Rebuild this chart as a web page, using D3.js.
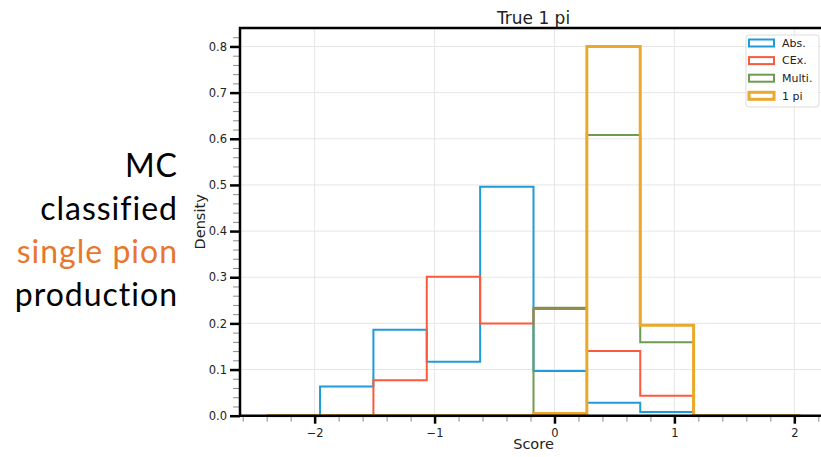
<!DOCTYPE html>
<html>
<head>
<meta charset="utf-8">
<script src="https://cdn.jsdelivr.net/npm/d3@7"></script>
<style>
  body { margin: 0; background: #fff; }
  svg { display: block; }
  text { font-family: "DejaVu Sans", sans-serif; fill: #222; }
  .side { font-family: Lato, "Open Sans", sans-serif; font-size: 32px; letter-spacing: 1px;
          font-variant-ligatures: none; font-feature-settings: "liga" 0, "clig" 0; fill: #000; }
</style>
</head>
<body>
<div id="chart"></div>
<script>
// histogram bin edges (Score) and densities per class
var binEdges = [-2.4, -1.955, -1.51, -1.065, -0.62, -0.175, 0.27, 0.715, 1.16, 1.605, 2.05];
var absVals = [0, 0.063, 0.186, 0.117, 0.496, 0.097, 0.028, 0.008, 0, 0];
var cexVals = [0, 0, 0.077, 0.301, 0.200, 0.231, 0.140, 0.043, 0, 0];
var multiVals = [0, 0, 0, 0, 0, 0.234, 0.608, 0.159, 0, 0];
var onePiVals = [0, 0, 0, 0, 0, 0.005, 0.800, 0.196, 0, 0];
var seriesNames = ["Abs.", "CEx.", "Multi.", "1 pi"];
var xTicks = [-2, -1, 0, 1, 2];
var yTicks = [0, 0.1, 0.2, 0.3, 0.4, 0.5, 0.6, 0.7, 0.8];
var sideLines = ["MC", "classified", "single pion", "production"];

var width = 821, height = 457;
var colors = ["#1f9bd9", "#fb5b3d", "#6f9a52", "#eaa92c"];
var lineWidths = [2, 2, 2, 3];

var svg = d3.select("#chart").append("svg")
    .attr("width", width)
    .attr("height", height);

// matplotlib style limits: 5% margin on x, y from 0 to max*1.05
var xSpan = binEdges[binEdges.length - 1] - binEdges[0];
var x = d3.scaleLinear()
    .domain([binEdges[0] - 0.05 * xSpan, binEdges[binEdges.length - 1] + 0.05 * xSpan])
    .range([240, 827]);
var yMax = d3.max([absVals, cexVals, multiVals, onePiVals], function (a) { return d3.max(a); });
var y = d3.scaleLinear()
    .domain([0, yMax * 1.05])
    .range([415.7, 28]);

var plotLeft = x.range()[0], plotRight = x.range()[1];
var plotTop = y.range()[1], plotBottom = y.range()[0];

// grid
svg.append("g").selectAll("line").data(xTicks).enter().append("line")
    .attr("x1", function (d) { return x(d); }).attr("x2", function (d) { return x(d); })
    .attr("y1", plotTop).attr("y2", plotBottom)
    .attr("stroke", "#e6e6e6").attr("stroke-width", 1);
svg.append("g").selectAll("line").data(yTicks.slice(1)).enter().append("line")
    .attr("x1", plotLeft).attr("x2", plotRight)
    .attr("y1", function (d) { return y(d); }).attr("y2", function (d) { return y(d); })
    .attr("stroke", "#e6e6e6").attr("stroke-width", 1);

// minor ticks
var xMinor = d3.range(-2.6, 2.3, 0.2).filter(function (v) {
    return Math.abs(v - Math.round(v)) > 0.01 && x(v) >= plotLeft;
});
var yMinor = d3.range(0, 0.84, 0.02).filter(function (v) {
    return Math.abs(v * 10 - Math.round(v * 10)) > 0.01;
});
var xAxisMinor = svg.append("g")
    .attr("transform", "translate(0," + plotBottom + ")")
    .call(d3.axisBottom(x).tickValues(xMinor).tickSize(6).tickFormat(""));
var yAxisMinor = svg.append("g")
    .attr("transform", "translate(" + plotLeft + ",0)")
    .call(d3.axisLeft(y).tickValues(yMinor).tickSize(7).tickFormat(""));
[xAxisMinor, yAxisMinor].forEach(function (g) {
    g.select(".domain").remove();
    g.selectAll(".tick line").attr("stroke", "#8a8a8a").attr("stroke-width", 1);
});

// histograms (step outlines)
var allVals = [absVals, cexVals, multiVals, onePiVals];
var line = d3.line().x(function (d) { return x(d[0]); }).y(function (d) { return y(d[1]); });
allVals.forEach(function (vals, i) {
    var pts = [[binEdges[0], 0]];
    vals.forEach(function (v, j) {
        pts.push([binEdges[j], v]);
        pts.push([binEdges[j + 1], v]);
    });
    pts.push([binEdges[binEdges.length - 1], 0]);
    svg.append("path")
        .attr("d", line(pts))
        .attr("fill", "none")
        .attr("stroke", colors[i])
        .attr("stroke-width", lineWidths[i]);
});

// major axes
var xAxis = svg.append("g")
    .attr("transform", "translate(0," + plotBottom + ")")
    .call(d3.axisBottom(x).tickValues(xTicks).tickSize(8).tickPadding(5)
        .tickFormat(function (d) { return d < 0 ? "\u2212" + Math.abs(d) : d; }));
var yAxis = svg.append("g")
    .attr("transform", "translate(" + plotLeft + ",0)")
    .call(d3.axisLeft(y).tickValues(yTicks).tickSize(10).tickPadding(3).tickFormat(d3.format(".1f")));
[xAxis, yAxis].forEach(function (g) {
    g.select(".domain").remove();
    g.selectAll(".tick line").attr("stroke", "#000").attr("stroke-width", 2.5);
    g.selectAll(".tick text").style("font-size", "11.5px").attr("fill", "#222");
});

// spines
svg.append("path")
    .attr("d", "M" + plotRight + "," + plotTop + "H" + plotLeft + "V" + plotBottom + "H" + plotRight)
    .attr("fill", "none").attr("stroke", "#000").attr("stroke-width", 2.5);

// labels
svg.append("text")
    .attr("x", (plotLeft + plotRight) / 2).attr("y", 24)
    .attr("text-anchor", "middle").style("font-size", "17px")
    .text("True 1 pi");
svg.append("text")
    .attr("x", (plotLeft + plotRight) / 2).attr("y", 449)
    .attr("text-anchor", "middle").style("font-size", "14.5px")
    .text("Score");
svg.append("text")
    .attr("transform", "translate(205," + ((plotTop + plotBottom) / 2) + ") rotate(-90)")
    .attr("text-anchor", "middle").style("font-size", "14.5px")
    .text("Density");

// legend
var legend = svg.append("g").attr("transform", "translate(746,35)");
legend.append("rect")
    .attr("width", 73).attr("height", 72).attr("rx", 3)
    .attr("fill", "#fff").attr("fill-opacity", 0.8)
    .attr("stroke", "#dcdcdc").attr("stroke-width", 1);
seriesNames.forEach(function (name, i) {
    var row = legend.append("g").attr("transform", "translate(0," + (8 + i * 17.6) + ")");
    row.append("rect")
        .attr("x", 3).attr("y", -3.5).attr("width", 25).attr("height", 7)
        .attr("fill", "none").attr("stroke", colors[i]).attr("stroke-width", lineWidths[i]);
    row.append("text")
        .attr("x", 36).attr("y", 0).attr("dy", "0.35em")
        .style("font-size", "11px")
        .text(name);
});

// slide text to the left
var baselines = [177, 220, 263, 306];
sideLines.forEach(function (t, i) {
    svg.append("text")
        .attr("class", "side")
        .attr("x", 178).attr("y", baselines[i])
        .attr("text-anchor", "end")
        .style("fill", i === 2 ? "#e8772e" : "#000")
        .text(t);
});
</script>
</body>
</html>
